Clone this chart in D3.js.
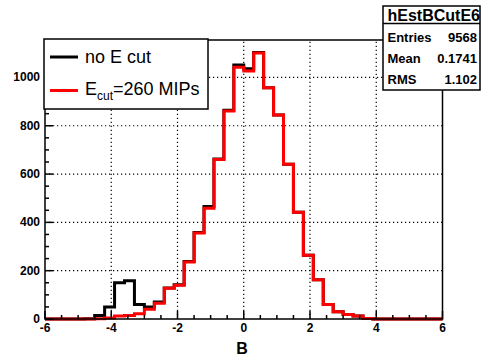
<!DOCTYPE html>
<html>
<head>
<meta charset="utf-8">
<script src="https://cdn.jsdelivr.net/npm/d3@7"></script>
<style>
  body { margin: 0; background: #fff; }
  text { font-family: "Liberation Sans", Arial, sans-serif; }
</style>
</head>
<body>
<div id="chart"></div>
<script>
// histogram binning: 40 bins of 0.3 from -6 to 6
const xMin = -6, binWidth = 0.3;

// counts per bin
const noCut = [0, 0, 0, 0, 1, 15, 50, 150, 158, 60,
  50, 70, 128, 142, 238, 358, 466, 662, 864, 1052,
  1036, 1103, 957, 845, 641, 442, 264, 163, 60, 30,
  19, 12, 2, 0, 0, 0, 0, 0, 0, 0];
const withCut = [0, 0, 0, 0, 0, 1, 4, 12, 15, 22,
  40, 65, 127, 140, 236, 356, 458, 660, 861, 1042,
  1027, 1101, 957, 845, 641, 442, 264, 163, 60, 30,
  19, 12, 2, 0, 0, 0, 0, 0, 0, 0];

const xTicks = [-6, -4, -2, 0, 2, 4, 6];
const yTicks = [0, 200, 400, 600, 800, 1000];

const statsLabels = ["Entries", "Mean", "RMS"];
const statsValues = ["9568", "0.1741", "1.102"];

const width = 481, height = 361;
const plotL = 45, plotR = 442.5, plotT = 40, plotB = 319;

const svg = d3.select("#chart").append("svg")
    .attr("width", width)
    .attr("height", height);

const x = d3.scaleLinear().domain([-6, 6]).range([plotL, plotR]);
const y = d3.scaleLinear().domain([0, 1155]).range([plotB, plotT]);

// dotted grid
const grid = svg.append("g").attr("stroke", "#000").attr("stroke-width", 1.2)
    .attr("stroke-dasharray", "1.2,2.8");
grid.selectAll("line.gx").data(xTicks.slice(1, -1)).enter().append("line")
    .attr("class", "gx")
    .attr("x1", d => x(d)).attr("x2", d => x(d))
    .attr("y1", plotB).attr("y2", plotT);
grid.selectAll("line.gy").data(yTicks.slice(1)).enter().append("line")
    .attr("class", "gy")
    .attr("x1", plotL).attr("x2", plotR)
    .attr("y1", d => y(d)).attr("y2", d => y(d));

// step lines
function stepPoints(vals) {
  const pts = vals.map((v, i) => [xMin + i * binWidth, v]);
  pts.push([xMin + vals.length * binWidth, vals[vals.length - 1]]);
  return pts;
}
const line = d3.line().x(d => x(d[0])).y(d => y(d[1])).curve(d3.curveStepAfter);

svg.append("path").attr("d", line(stepPoints(noCut)))
    .attr("fill", "none").attr("stroke", "#000").attr("stroke-width", 3);
svg.append("path").attr("d", line(stepPoints(withCut)))
    .attr("fill", "none").attr("stroke", "#ff0000").attr("stroke-width", 3);

// frame
svg.append("rect").attr("x", plotL).attr("y", plotT)
    .attr("width", plotR - plotL).attr("height", plotB - plotT)
    .attr("fill", "none").attr("stroke", "#000").attr("stroke-width", 1.5);

// ticks (inward)
const ticks = svg.append("g").attr("stroke", "#000").attr("stroke-width", 1.5);
ticks.selectAll("line.xmaj").data(xTicks).enter().append("line")
    .attr("class", "xmaj")
    .attr("x1", d => x(d)).attr("x2", d => x(d))
    .attr("y1", plotB).attr("y2", plotB - 8);
ticks.selectAll("line.xmin").data(d3.range(-5.5, 6, 0.5).filter(v => v % 2 !== 0)).enter().append("line")
    .attr("class", "xmin")
    .attr("x1", d => x(d)).attr("x2", d => x(d))
    .attr("y1", plotB).attr("y2", plotB - 4);
ticks.selectAll("line.ymaj").data(yTicks).enter().append("line")
    .attr("class", "ymaj")
    .attr("x1", plotL).attr("x2", plotL + 8)
    .attr("y1", d => y(d)).attr("y2", d => y(d));
ticks.selectAll("line.ymin").data(d3.range(50, 1155, 50).filter(v => v % 200 !== 0)).enter().append("line")
    .attr("class", "ymin")
    .attr("x1", plotL).attr("x2", plotL + 4)
    .attr("y1", d => y(d)).attr("y2", d => y(d));

// tick labels
svg.selectAll("text.xl").data(xTicks).enter().append("text")
    .attr("class", "xl")
    .attr("x", d => x(d)).attr("y", 332)
    .attr("text-anchor", "middle")
    .attr("font-size", 12).attr("font-weight", "bold")
    .text(d => d);
svg.selectAll("text.yl").data(yTicks).enter().append("text")
    .attr("class", "yl")
    .attr("x", 40).attr("y", d => y(d) + 4)
    .attr("text-anchor", "end")
    .attr("font-size", 12).attr("font-weight", "bold")
    .text(d => d);

// axis title
svg.append("text").attr("x", 242).attr("y", 354)
    .attr("text-anchor", "middle")
    .attr("font-size", 16).attr("font-weight", "bold")
    .text("B");

// legend
const leg = svg.append("g");
leg.append("rect").attr("x", 44).attr("y", 39).attr("width", 164).attr("height", 70)
    .attr("fill", "#fff").attr("stroke", "#000").attr("stroke-width", 1.5);
leg.append("line").attr("x1", 50).attr("x2", 78).attr("y1", 57).attr("y2", 57)
    .attr("stroke", "#000").attr("stroke-width", 3);
leg.append("text").attr("x", 85).attr("y", 63).attr("font-size", 18).text("no E cut");
leg.append("line").attr("x1", 50).attr("x2", 78).attr("y1", 90.5).attr("y2", 90.5)
    .attr("stroke", "#ff0000").attr("stroke-width", 3);
const lt = leg.append("text").attr("x", 85).attr("y", 95).attr("font-size", 18);
lt.append("tspan").text("E");
lt.append("tspan").attr("font-size", 12).attr("dy", 5).text("cut");
lt.append("tspan").attr("dy", -5).text("=260 MIPs");

// stats box
const st = svg.append("g");
st.append("rect").attr("x", 383).attr("y", 6).attr("width", 97).attr("height", 84)
    .attr("fill", "#fff").attr("stroke", "#000").attr("stroke-width", 1.5);
st.append("line").attr("x1", 383).attr("x2", 480).attr("y1", 23.5).attr("y2", 23.5)
    .attr("stroke", "#000").attr("stroke-width", 1.5);
st.append("text").attr("x", 387.5).attr("y", 21)
    .attr("font-size", 16).attr("font-weight", "bold").text("hEstBCutE6");
st.selectAll("text.sl").data(statsLabels).enter().append("text")
    .attr("class", "sl")
    .attr("x", 387.5).attr("y", (d, i) => 41.5 + i * 21)
    .attr("font-size", 13).attr("font-weight", "bold").text(d => d);
st.selectAll("text.sv").data(statsValues).enter().append("text")
    .attr("class", "sv")
    .attr("x", 477).attr("y", (d, i) => 41.5 + i * 21)
    .attr("text-anchor", "end")
    .attr("font-size", 13).attr("font-weight", "bold").text(d => d);
</script>
</body>
</html>
